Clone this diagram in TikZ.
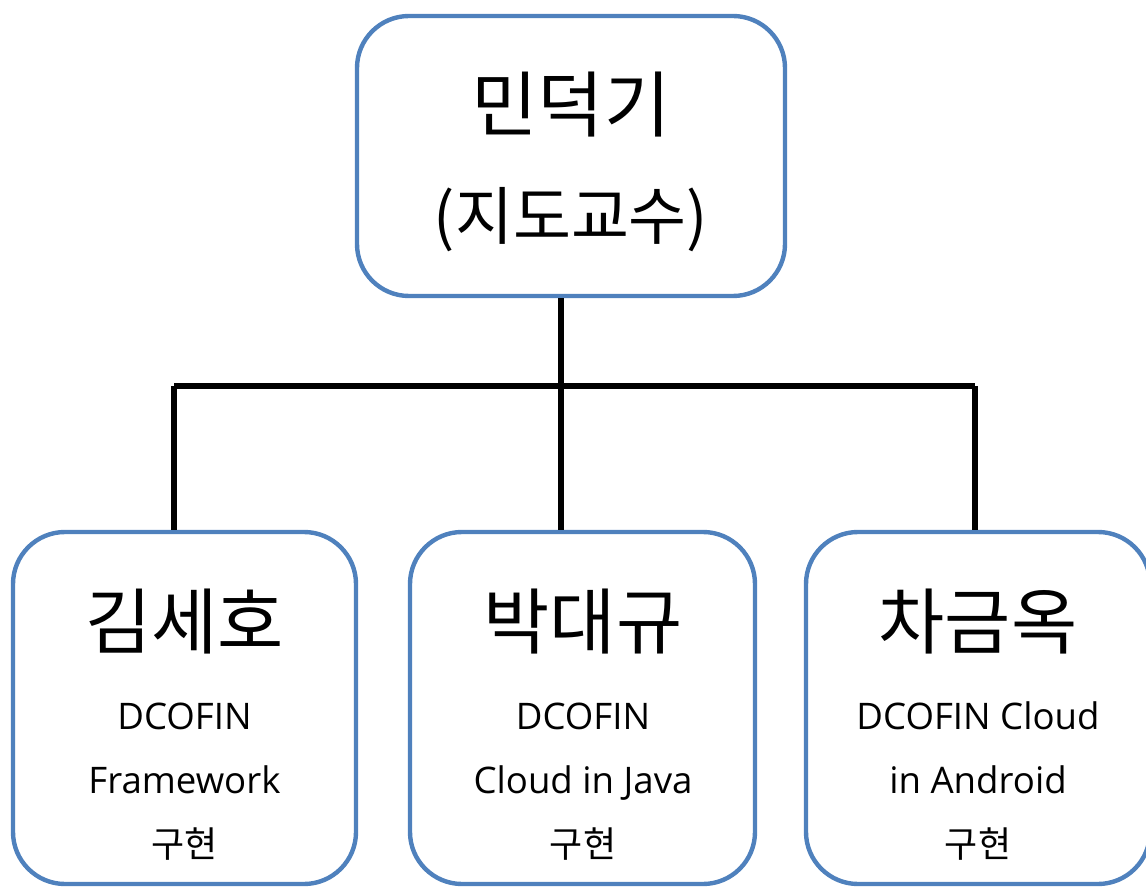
\documentclass[tikz,border=0pt]{standalone}
\usepackage{fontspec}
\setmainfont{Open Sans}
\newfontfamily\kr{Noto Sans CJK KR}
\definecolor{boxblue}{RGB}{79,129,189}
\tikzset{
  card/.style={draw=boxblue, line width=2.2pt, rounded corners=26pt, fill=white, inner sep=0pt},
  conn/.style={draw=black, line width=2.6pt},
  bigname/.style={inner sep=0pt, font=\kr\fontsize{36}{36}\selectfont},
  role/.style={inner sep=0pt, font=\kr\fontsize{31.5}{31.5}\selectfont},
  task/.style={inner sep=0pt, anchor=base, font=\fontsize{18.3}{18.3}\selectfont},
  taskkr/.style={inner sep=0pt, anchor=base, font=\kr\fontsize{18}{18}\selectfont}
}
\begin{document}
\begin{tikzpicture}[x=0.5pt,y=-0.5pt]
\useasboundingbox (0,0) rectangle (1146,887);

% boxes
\node[card, minimum width=214pt, minimum height=140pt] (prof) at (571,156) {};
\node[card, minimum width=171.5pt, minimum height=176pt] (kim) at (184.5,708) {};
\node[card, minimum width=172.5pt, minimum height=176pt] (park) at (582.5,708) {};
\node[card, minimum width=172pt, minimum height=176pt] (cha) at (978,708) {};

% tree connectors
\coordinate (hub) at (561,386);
\coordinate (jl) at (174,386);
\coordinate (jr) at (975,386);
\draw[conn] (prof.south -| hub) -- (hub);
\draw[conn] (jl) -- (jr);
\draw[conn] (jl) -- (jl |- kim.north);
\draw[conn] (hub) -- (hub |- park.north);
\draw[conn] (jr) -- (jr |- cha.north);

% professor
\node[bigname] (profname) at (571,105) {민덕기};
\node[role] (profrole) at (571,220) {(지도교수)};

% members
\node[bigname] (kimname) at (184.5,622) {김세호};
\node[task] (kim1) at (184.5,729) {DCOFIN};
\node[task] (kim2) at (184.5,793) {Framework};
\node[taskkr] (kim3) at (184.5,857) {구현};

\node[bigname] (parkname) at (583,622) {박대규};
\node[task] (park1) at (583,729) {DCOFIN};
\node[task] (park2) at (583,793) {Cloud in Java};
\node[taskkr] (park3) at (583,857) {구현};

\node[bigname] (chaname) at (978,622) {차금옥};
\node[task] (cha1) at (978,729) {DCOFIN Cloud};
\node[task] (cha2) at (978,793) {in Android};
\node[taskkr] (cha3) at (978,857) {구현};
\end{tikzpicture}
\end{document}
